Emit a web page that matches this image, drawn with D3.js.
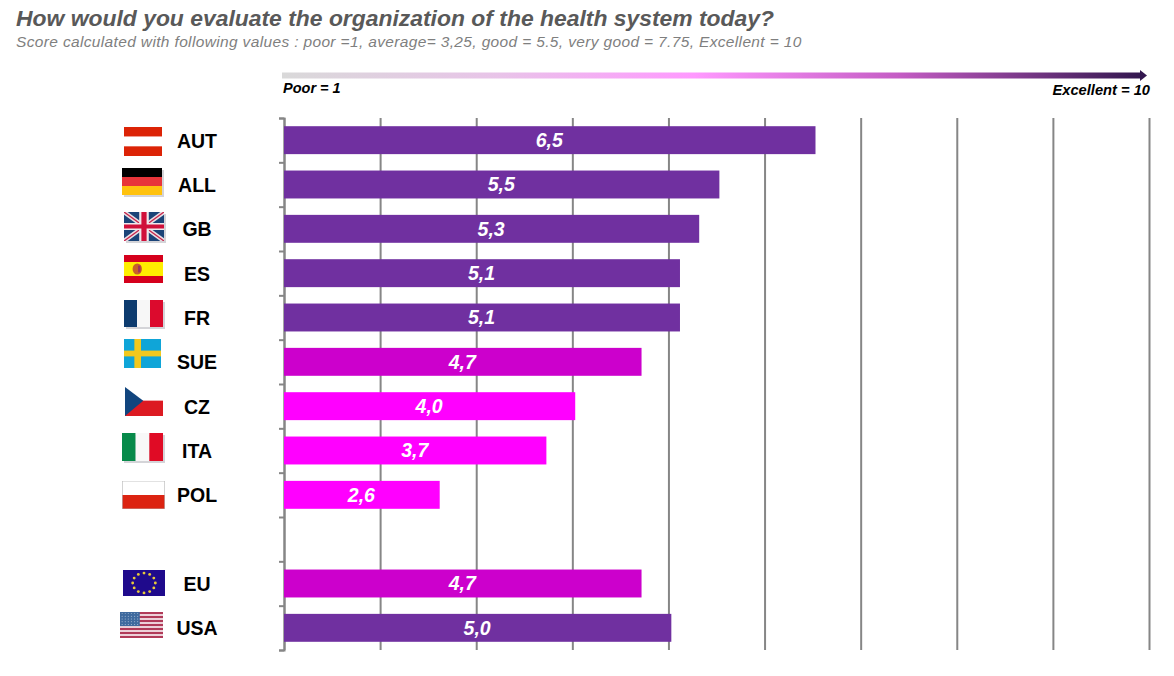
<!DOCTYPE html>
<html>
<head>
<meta charset="utf-8">
<title>Organization of the health system</title>
<script src="https://cdn.jsdelivr.net/npm/d3@7"></script>
<style>
  html, body { margin: 0; padding: 0; background: #fff; }
  svg { display: block; font-family: "Liberation Sans", Arial, sans-serif; }
</style>
</head>
<body>
<div id="chart"></div>
<script>
// Data ("" is the blank row between countries and EU/USA)
const countries = ["AUT", "ALL", "GB", "ES", "FR", "SUE", "CZ", "ITA", "POL", "", "EU", "USA"];
const scores = [6.53, 5.53, 5.32, 5.12, 5.12, 4.72, 4.03, 3.73, 2.62, null, 4.72, 5.03];
const scoreLabels = ["6,5", "5,5", "5,3", "5,1", "5,1", "4,7", "4,0", "3,7", "2,6", "", "4,7", "5,0"];
const scoreGroups = ["high", "high", "high", "high", "high", "mid", "low", "low", "low", "", "mid", "high"];
const groupNames = ["high", "mid", "low"];
const groupColors = ["#7030a0", "#cc00cc", "#ff00ff"];
const scoreTicks = [1, 2, 3, 4, 5, 6, 7, 8, 9, 10];

const titleText = "How would you evaluate the organization of the health system today?";
const subtitleText = "Score calculated with following values : poor =1, average= 3,25, good = 5.5, very good = 7.75, Excellent = 10";

const width = 1174, height = 676;
const plot = {left: 284, right: 1149, top: 118, bottom: 650};

const svg = d3.select("#chart").append("svg")
    .attr("width", width)
    .attr("height", height);

// Scales
const x = d3.scaleLinear().domain([1, 10]).range([plot.left, plot.right]);
const y = d3.scaleBand().domain(d3.range(countries.length)).range([plot.top, plot.bottom]).paddingInner(0.37).paddingOuter(0.185);
const rowEdges = d3.scaleLinear().domain([0, countries.length]).range([plot.top, plot.bottom]);
const color = d3.scaleOrdinal().domain(groupNames).range(groupColors);

// Heading
svg.append("text")
    .attr("x", 16).attr("y", 26)
    .style("font-size", "22.9px").style("font-weight", "bold").style("font-style", "italic")
    .style("fill", "#595959")
    .text(titleText);

svg.append("text")
    .attr("x", 16).attr("y", 47)
    .style("font-size", "15.5px").style("font-style", "italic")
    .style("letter-spacing", "0.35px")
    .style("fill", "#7f7f7f")
    .text(subtitleText);

// Poor -> Excellent arrow
const defs = svg.append("defs");
const grad = defs.append("linearGradient").attr("id", "scale-arrow");
[["0%", "#d9d9d9"], ["25%", "#e8c4e8"], ["48%", "#ff99ff"], ["72%", "#c45cc4"], ["100%", "#33174f"]].forEach(s => {
    grad.append("stop").attr("offset", s[0]).attr("stop-color", s[1]);
});

svg.append("rect")
    .attr("x", 282).attr("y", 72.5)
    .attr("width", 858).attr("height", 6)
    .attr("fill", "url(#scale-arrow)");

svg.append("path")
    .attr("d", "M1140,70L1147,75.5L1140,81Z")
    .attr("fill", "#33174f");

svg.append("text")
    .attr("x", 283).attr("y", 93)
    .style("font-size", "14.5px").style("font-weight", "bold").style("font-style", "italic")
    .text("Poor = 1");

svg.append("text")
    .attr("x", 1150).attr("y", 95)
    .attr("text-anchor", "end")
    .style("font-size", "14.7px").style("font-weight", "bold").style("font-style", "italic")
    .text("Excellent = 10");

// Vertical grid
const grid = svg.append("g")
    .attr("transform", `translate(0,${plot.top})`)
    .call(d3.axisBottom(x).tickValues(scoreTicks).tickSize(plot.bottom - plot.top).tickFormat(""));
grid.select(".domain").remove();
grid.selectAll("line").attr("stroke", "#868686").attr("stroke-width", 2);

// Left axis, ticks sit between the rows
const yAxis = svg.append("g")
    .attr("transform", `translate(${plot.left},0)`)
    .call(d3.axisLeft(rowEdges).ticks(countries.length).tickSize(5).tickSizeOuter(5).tickFormat(""));
yAxis.selectAll("line, path").attr("stroke", "#868686").attr("stroke-width", 2);

// Bars
const rows = d3.range(countries.length).filter(i => scores[i] !== null);

svg.selectAll(".bar")
    .data(rows)
    .enter()
    .append("rect")
    .attr("class", "bar")
    .attr("x", x(1))
    .attr("y", i => y(i))
    .attr("width", i => x(scores[i]) - x(1))
    .attr("height", y.bandwidth())
    .attr("fill", i => color(scoreGroups[i]));

svg.selectAll(".bar-label")
    .data(rows)
    .enter()
    .append("text")
    .attr("class", "bar-label")
    .attr("x", i => (x(1) + x(scores[i])) / 2 - 0.5)
    .attr("y", i => y(i) + y.bandwidth() / 2)
    .attr("dy", "0.35em")
    .attr("text-anchor", "middle")
    .style("font-size", "19.5px").style("font-weight", "bold").style("font-style", "italic")
    .style("fill", "#fff")
    .text(i => scoreLabels[i]);

svg.selectAll(".country")
    .data(rows)
    .enter()
    .append("text")
    .attr("class", "country")
    .attr("x", 197)
    .attr("y", i => y(i) + y.bandwidth() / 2 + 0.6)
    .attr("dy", "0.35em")
    .attr("text-anchor", "middle")
    .style("font-size", "19.5px").style("font-weight", "bold")
    .style("fill", "#000")
    .text(i => countries[i]);

// Flags: each is drawn in a 100x100 box then stretched to its spot
const flagBoxes = {
    AUT: [124, 127, 38, 29], ALL: [122, 168, 40, 27], GB: [124, 212, 40, 29], ES: [124, 255, 39, 28],
    FR: [124, 300, 39, 27], SUE: [124, 339, 37, 29], CZ: [125, 387, 38, 29], ITA: [122, 433, 41, 28],
    POL: [122, 481, 43, 28], EU: [123, 570, 42, 26], USA: [120, 612, 43, 26]
};
const shadowed = ["ALL", "GB", "FR", "ITA"];

function bands(g, list, vertical) {
    const step = 100 / list.length;
    list.forEach((c, i) => {
        g.append("rect")
            .attr("x", vertical ? i * step : 0).attr("y", vertical ? 0 : i * step)
            .attr("width", vertical ? step : 100).attr("height", vertical ? 100 : step)
            .attr("fill", c);
    });
}

const flagPainters = {
    AUT: g => bands(g, ["#dc2306", "#fff", "#dc2306"]),
    ALL: g => bands(g, ["#000", "#e8343a", "#ffc20e"]),
    GB: g => {
        g.append("rect").attr("width", 100).attr("height", 100).attr("fill", "#1b4478");
        g.append("path").attr("d", "M0,0L100,100M100,0L0,100").attr("stroke", "#e8dfe4").attr("stroke-width", 13);
        g.append("path").attr("d", "M0,0L100,100M100,0L0,100").attr("stroke", "#c8244a").attr("stroke-width", 4);
        g.append("path").attr("d", "M50,0V100M0,50H100").attr("stroke", "#f0e8ec").attr("stroke-width", 24);
        g.append("path").attr("d", "M50,0V100M0,50H100").attr("stroke", "#d0103a").attr("stroke-width", 13);
    },
    ES: g => {
        g.append("rect").attr("width", 100).attr("height", 100).attr("fill", "#d5001c");
        g.append("rect").attr("y", 25).attr("width", 100).attr("height", 50).attr("fill", "#ffee00");
        g.append("ellipse").attr("cx", 34).attr("cy", 50).attr("rx", 12).attr("ry", 20).attr("fill", "#c8602a");
        g.append("rect").attr("x", 36).attr("y", 38).attr("width", 6).attr("height", 24).attr("fill", "#a03060");
    },
    FR: g => bands(g, ["#0d3b6e", "#f7f7f7", "#dc0a2d"], true),
    SUE: g => {
        g.append("rect").attr("width", 100).attr("height", 100).attr("fill", "#0fa5d8");
        g.append("rect").attr("x", 28).attr("width", 18).attr("height", 100).attr("fill", "#f2c81e");
        g.append("rect").attr("y", 40).attr("width", 100).attr("height", 20).attr("fill", "#f2c81e");
    },
    CZ: g => {
        g.append("rect").attr("width", 100).attr("height", 100).attr("fill", "#fff");
        g.append("rect").attr("y", 47).attr("width", 100).attr("height", 53).attr("fill", "#dc1a22");
        g.append("path").attr("d", "M0,0L48,47L0,100Z").attr("fill", "#11457e");
    },
    ITA: g => bands(g, ["#078a4a", "#f8f8f8", "#e00b25"], true),
    POL: g => {
        bands(g, ["#fff", "#dc2311"]);
        g.append("rect").attr("width", 100).attr("height", 100).attr("fill", "none").attr("stroke", "#bbb").attr("stroke-width", 3);
    },
    EU: g => {
        g.append("rect").attr("width", 100).attr("height", 100).attr("fill", "#1f0a8c");
        d3.range(12).forEach(i => {
            const a = i * Math.PI / 6;
            g.append("ellipse")
                .attr("cx", 50 + 27 * Math.sin(a)).attr("cy", 50 - 38 * Math.cos(a))
                .attr("rx", 3.4).attr("ry", 5.5)
                .attr("fill", "#e8c93a");
        });
    },
    USA: g => {
        bands(g, d3.range(13).map(i => i % 2 ? "#ecd0d8" : "#b03a58"));
        g.append("rect").attr("width", 46).attr("height", 54).attr("fill", "#3f6a9e");
        d3.range(5).forEach(r => d3.range(6).forEach(c => {
            g.append("circle").attr("cx", 5 + c * 7.2).attr("cy", 6 + r * 10.5).attr("r", 1.6).attr("fill", "#b8c8dc");
        }));
    }
};

Object.keys(flagBoxes).forEach(name => {
    const b = flagBoxes[name];
    if (shadowed.includes(name)) {
        svg.append("rect")
            .attr("x", b[0] + 2).attr("y", b[1] + 2)
            .attr("width", b[2]).attr("height", b[3])
            .attr("fill", "#d4d4d8");
    }
    const flag = svg.append("svg")
        .attr("x", b[0]).attr("y", b[1])
        .attr("width", b[2]).attr("height", b[3])
        .attr("viewBox", "0 0 100 100")
        .attr("preserveAspectRatio", "none");
    flagPainters[name](flag.append("g"));
});
</script>
</body>
</html>
